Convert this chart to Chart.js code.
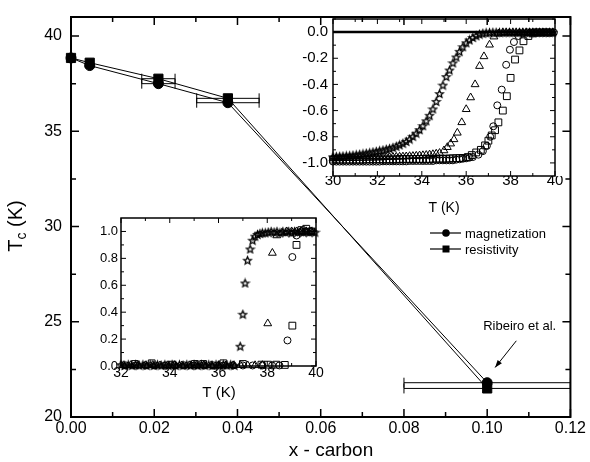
<!DOCTYPE html>
<html>
<head>
<meta charset="utf-8">
<script src="https://cdn.jsdelivr.net/npm/chart.js@4.4.1/dist/chart.umd.min.js"></script>
<style>
body { margin: 0; background: #fff; }
#wrap { position: relative; width: 590px; height: 462px; }
canvas { position: absolute; left: 0; top: 0; }
</style>
</head>
<body>
<div id="wrap">
  <canvas id="main" width="590" height="462"></canvas>
  <canvas id="ins1" width="590" height="462"></canvas>
  <canvas id="ins2" width="590" height="462"></canvas>
</div>
<script>
// main plot: Tc vs carbon content
var carbon    = [0, 0.0045, 0.021, 0.0377, 0.10];
var carbonErr = [0, 0, 0.004, 0.0075, 0.02];
var tcMag     = [38.85, 38.45, 37.5, 36.5, 21.8];
var tcRes     = [38.85, 38.6, 37.76, 36.73, 21.5];
var mainXTicks = [0, 0.02, 0.04, 0.06, 0.08, 0.10, 0.12];
var mainYTicks = [20, 25, 30, 35, 40];
var ribeiroText  = [0.1078, 24.77];
var ribeiroArrow = [0.107, 24.0, 0.1019, 22.6];

// inset 1: M/|M(5K)| vs T
var magStarT = [30.0,30.15,30.3,30.45,30.6,30.75,30.9,31.05,31.2,31.35,31.5,31.65,31.8,31.95,32.1,32.25,32.4,32.55,32.7,32.85,33.0,33.15,33.3,33.45,33.6,33.75,33.9,34.05,34.2,34.35,34.5,34.65,34.8,34.95,35.1,35.25,35.4,35.55,35.7,35.85,36.0,36.15,36.3,36.45,36.6,36.75,36.9,37.05,37.2,37.35,37.5,37.65,37.8,37.95,38.1,38.25,38.4,38.55,38.7,38.85,39.0,39.15,39.3,39.45,39.6,39.75,39.9];
var magStarM = [-0.953,-0.951,-0.95,-0.948,-0.946,-0.944,-0.941,-0.938,-0.934,-0.93,-0.926,-0.922,-0.917,-0.912,-0.907,-0.902,-0.896,-0.89,-0.882,-0.873,-0.862,-0.85,-0.836,-0.818,-0.797,-0.773,-0.746,-0.715,-0.678,-0.636,-0.587,-0.53,-0.47,-0.405,-0.34,-0.29,-0.235,-0.19,-0.147,-0.112,-0.082,-0.06,-0.041,-0.028,-0.016,-0.009,-0.005,-0.003,-0.002,-0.002,-0.002,-0.002,-0.002,-0.002,-0.002,-0.002,-0.002,-0.002,-0.002,-0.002,-0.002,-0.002,-0.002,-0.002,-0.002,-0.002,-0.002];
var magTriT = [30.0,30.15,30.3,30.45,30.6,30.75,30.9,31.05,31.2,31.35,31.5,31.65,31.8,31.95,32.1,32.25,32.4,32.55,32.7,32.85,33.0,33.15,33.3,33.45,33.6,33.75,33.9,34.05,34.2,34.35,34.5,34.65,34.8,35.0,35.15,35.3,35.45,35.6,35.8,36.0,36.2,36.4,36.6,36.8,37.05,37.25,37.45,37.65,37.8,37.95,38.1,38.25,38.4,38.55,38.7,38.85,39.0,39.15,39.3,39.45,39.6,39.75,39.9];
var magTriM = [-0.966,-0.966,-0.965,-0.965,-0.964,-0.964,-0.963,-0.963,-0.962,-0.962,-0.961,-0.961,-0.96,-0.96,-0.959,-0.958,-0.957,-0.956,-0.955,-0.954,-0.953,-0.952,-0.951,-0.949,-0.948,-0.946,-0.944,-0.942,-0.94,-0.937,-0.934,-0.93,-0.925,-0.905,-0.88,-0.853,-0.82,-0.77,-0.69,-0.59,-0.5,-0.4,-0.26,-0.186,-0.097,-0.035,-0.012,-0.004,-0.004,-0.004,-0.004,-0.004,-0.004,-0.004,-0.004,-0.004,-0.004,-0.004,-0.004,-0.004,-0.004,-0.004,-0.004];
var magCircT = [30.0,30.15,30.3,30.45,30.6,30.75,30.9,31.05,31.2,31.35,31.5,31.65,31.8,31.95,32.1,32.25,32.4,32.55,32.7,32.85,33.0,33.15,33.3,33.45,33.6,33.75,33.9,34.05,34.2,34.35,34.5,34.65,34.8,34.95,35.1,35.25,35.4,35.55,35.7,35.85,36.0,36.15,36.3,36.55,36.75,36.93,37.08,37.22,37.4,37.6,37.8,37.97,38.15,38.35,38.55,38.75,38.9,39.05,39.2,39.35,39.5,39.65,39.8,39.95];
var magCircM = [-0.99,-0.99,-0.99,-0.99,-0.99,-0.99,-0.99,-0.99,-0.99,-0.99,-0.99,-0.99,-0.99,-0.99,-0.99,-0.988,-0.988,-0.988,-0.988,-0.988,-0.988,-0.988,-0.988,-0.985,-0.985,-0.985,-0.985,-0.985,-0.985,-0.985,-0.985,-0.98,-0.98,-0.98,-0.98,-0.98,-0.98,-0.975,-0.972,-0.968,-0.965,-0.96,-0.955,-0.937,-0.91,-0.87,-0.8,-0.72,-0.56,-0.44,-0.25,-0.135,-0.076,-0.03,-0.01,-0.003,-0.003,-0.003,-0.003,-0.003,-0.003,-0.003,-0.003,-0.003];
var magSqT = [30.0,30.15,30.3,30.45,30.6,30.75,30.9,31.05,31.2,31.35,31.5,31.65,31.8,31.95,32.1,32.25,32.4,32.55,32.7,32.85,33.0,33.15,33.3,33.45,33.6,33.75,33.9,34.05,34.2,34.35,34.5,34.65,34.8,34.95,35.1,35.25,35.4,35.55,35.7,35.85,36.07,36.25,36.45,36.66,36.85,37.0,37.15,37.3,37.45,37.65,37.83,38.0,38.2,38.4,38.58,38.8,39.0,39.2,39.4,39.6,39.8];
var magSqM = [-0.975,-0.975,-0.975,-0.975,-0.975,-0.975,-0.975,-0.975,-0.975,-0.975,-0.973,-0.973,-0.973,-0.973,-0.973,-0.973,-0.973,-0.973,-0.973,-0.973,-0.97,-0.97,-0.97,-0.97,-0.97,-0.97,-0.97,-0.97,-0.97,-0.97,-0.968,-0.968,-0.968,-0.968,-0.968,-0.966,-0.965,-0.964,-0.963,-0.962,-0.955,-0.94,-0.92,-0.9,-0.866,-0.83,-0.79,-0.75,-0.69,-0.6,-0.49,-0.35,-0.21,-0.14,-0.07,-0.03,-0.01,-0.003,-0.003,-0.003,-0.003];
var magZeroT = [30, 40];
var magZeroM = [0, 0];
var magXTicks = [30, 32, 34, 36, 38, 40];
var magYTicks = [-1.0, -0.8, -0.6, -0.4, -0.2, 0.0];

// inset 2: rho/rho(40K) vs T
var resStarT = [32.0,32.15,32.3,32.45,32.6,32.75,32.9,33.05,33.2,33.35,33.5,33.65,33.8,33.95,34.1,34.25,34.4,34.55,34.7,34.85,35.0,35.15,35.3,35.45,35.6,35.75,35.9,36.05,36.2,36.35,36.5,36.65,36.89,37.0,37.09,37.19,37.3,37.4,37.5,37.6,37.7,37.8,37.92,38.04,38.16,38.28,38.4,38.52,38.64,38.76,38.88,39.0,39.12,39.24,39.36,39.48,39.6,39.72,39.84,39.96];
var resStarR = [0.01,0.005,0.01,0.004,0.01,0.006,0.01,0.005,0.01,0.004,0.01,0.006,0.01,0.005,0.01,0.004,0.01,0.006,0.01,0.005,0.01,0.004,0.01,0.006,0.01,0.005,0.01,0.004,0.01,0.006,0.01,0.005,0.147,0.385,0.617,0.786,0.87,0.935,0.965,0.978,0.985,0.99,0.99,0.995,1.0,0.995,1.0,0.99,1.0,0.995,1.0,0.99,1.0,0.995,1.0,0.995,1.0,0.995,1.0,0.995];
var resTriT = [32.1,32.4,32.7,33.0,33.3,33.6,33.9,34.2,34.5,34.8,35.1,35.4,35.7,36.0,36.3,36.6,36.9,37.2,37.5,37.8,38.02,38.21,38.39,38.6,38.8,39.0,39.2,39.4,39.6,39.8];
var resTriR = [0.005,0.006,0.004,0.005,0.006,0.004,0.005,0.006,0.004,0.005,0.006,0.004,0.005,0.006,0.004,0.005,0.006,0.004,0.005,0.006,0.316,0.84,0.97,0.99,1.0,1.0,1.0,1.0,1.0,1.0];
var resCircT = [32.2,32.6,33.0,33.4,33.8,34.2,34.6,35.0,35.4,35.8,36.2,36.6,37.0,37.4,37.8,38.2,38.5,38.83,39.03,39.2,39.4,39.6,39.8];
var resCircR = [0.004,0.004,0.004,0.004,0.004,0.004,0.004,0.004,0.004,0.004,0.004,0.004,0.004,0.004,0.004,0.004,0.004,0.19,0.81,0.97,1.0,1.0,1.0];
var resSqT = [32.57,33.26,34.1,35.03,35.37,36.2,37.0,37.76,38.03,38.37,38.72,39.03,39.2,39.4,39.6,39.8];
var resSqR = [0.015,0.02,0.01,0.015,0.015,0.02,0.015,0.01,0.01,0.01,0.008,0.30,0.90,1.01,1.02,1.0];
var resXTicks = [32, 34, 36, 38, 40];
var resYTicks = [0, 0.2, 0.4, 0.6, 0.8, 1.0];

var FONT = 'Liberation Sans, Arial, sans-serif';
Chart.defaults.font.family = FONT;
Chart.defaults.color = '#000';

function pts(xs, ys) {
    return xs.map(function(x, i) { return { x: x, y: ys[i] }; });
}

function starImage(r) {
    var c = document.createElement('canvas');
    var s = Math.ceil(r * 2 + 3);
    c.width = s; c.height = s;
    var g = c.getContext('2d');
    g.translate(s / 2, s / 2 + 0.5);
    g.beginPath();
    for (var i = 0; i < 10; i++) {
        var rr = i % 2 ? r * 0.45 : r;
        var a = -Math.PI / 2 + i * Math.PI / 5;
        g.lineTo(rr * Math.cos(a), rr * Math.sin(a));
    }
    g.closePath();
    g.lineWidth = 1.3;
    g.strokeStyle = '#000';
    g.stroke();
    return c;
}
var star = starImage(4);

function axis(min, max, ticks, fmt, size, pad, isX, font) {
    return {
        type: 'linear', min: min, max: max,
        grid: { display: false, drawTicks: false },
        border: { display: false },
        afterBuildTicks: function(s) { s.ticks = ticks.map(function(v) { return { value: v }; }); },
        afterFit: function(s) { if (isX) s.height = size; else s.width = size; },
        ticks: { padding: pad, maxRotation: 0, autoSkip: false, font: font, callback: fmt }
    };
}

// box round the plot area with inward ticks on all four sides
var frameTicks = {
    id: 'frameTicks',
    afterDatasetsDraw: function(chart, args, o) {
        var ctx = chart.ctx, a = chart.chartArea;
        var xs = chart.scales.x, ys = chart.scales.y;
        function minors(scale) {
            var v = scale.ticks.map(function(t) { return t.value; }), out = [];
            var st = v[1] - v[0];
            for (var i = -1; i < v.length; i++) {
                var m = (i < 0 ? v[0] - st / 2 : v[i] + st / 2);
                if (m > scale.min && m < scale.max) out.push(m);
            }
            return out;
        }
        ctx.save();
        ctx.strokeStyle = '#000';
        ctx.lineWidth = o.tickWidth;
        ctx.beginPath();
        [[xs.ticks.map(function(t) { return t.value; }), o.major], [minors(xs), o.minor]].forEach(function(set) {
            set[0].forEach(function(v) {
                var px = xs.getPixelForValue(v);
                ctx.moveTo(px, a.bottom); ctx.lineTo(px, a.bottom - set[1]);
                ctx.moveTo(px, a.top); ctx.lineTo(px, a.top + set[1]);
            });
        });
        [[ys.ticks.map(function(t) { return t.value; }), o.major], [minors(ys), o.minor]].forEach(function(set) {
            set[0].forEach(function(v) {
                var py = ys.getPixelForValue(v);
                ctx.moveTo(a.left, py); ctx.lineTo(a.left + set[1], py);
                ctx.moveTo(a.right, py); ctx.lineTo(a.right - set[1], py);
            });
        });
        ctx.stroke();
        ctx.lineWidth = o.lineWidth;
        ctx.strokeRect(a.left, a.top, a.right - a.left, a.bottom - a.top);
        ctx.restore();
    }
};

// horizontal error bars read from dataset.xErr
var errorBars = {
    id: 'errorBars',
    beforeDatasetsDraw: function(chart) {
        var ctx = chart.ctx, a = chart.chartArea;
        var xs = chart.scales.x, ys = chart.scales.y;
        ctx.save();
        ctx.beginPath();
        ctx.rect(a.left, a.top - 10, a.right - a.left, a.bottom - a.top + 20);
        ctx.clip();
        ctx.strokeStyle = '#000';
        ctx.lineWidth = 1;
        ctx.beginPath();
        chart.data.datasets.forEach(function(ds) {
            if (!ds.xErr) return;
            ds.data.forEach(function(p, i) {
                var e = ds.xErr[i];
                if (!e) return;
                var x0 = xs.getPixelForValue(p.x - e), x1 = xs.getPixelForValue(p.x + e);
                var y = ys.getPixelForValue(p.y);
                ctx.moveTo(x0, y); ctx.lineTo(x1, y);
                ctx.moveTo(x0, y - 5); ctx.lineTo(x0, y + 5);
                ctx.moveTo(x1, y - 5); ctx.lineTo(x1, y + 5);
            });
        });
        ctx.stroke();
        ctx.restore();
    }
};

function rotText(ctx, txt, x, y, font) {
    ctx.save();
    ctx.translate(x, y);
    ctx.rotate(-Math.PI / 2);
    ctx.font = font;
    ctx.textAlign = 'center';
    ctx.textBaseline = 'middle';
    ctx.fillText(txt, 0, 0);
    ctx.restore();
}

var mainNotes = {
    id: 'mainNotes',
    afterDraw: function(chart) {
        var ctx = chart.ctx, xs = chart.scales.x, ys = chart.scales.y;
        ctx.save();
        ctx.fillStyle = '#000';
        ctx.strokeStyle = '#000';
        // x title
        ctx.font = '19px ' + FONT;
        ctx.textAlign = 'center';
        ctx.textBaseline = 'middle';
        ctx.fillText('x - carbon', 331, 451);
        // y title with subscript
        ctx.save();
        var big = '20px ' + FONT, small = '14px ' + FONT;
        ctx.font = big; var wT = ctx.measureText('T').width, wK = ctx.measureText(' (K)').width;
        ctx.font = small; var wc = ctx.measureText('c').width;
        ctx.translate(22, 226);
        ctx.rotate(-Math.PI / 2);
        ctx.textAlign = 'left';
        ctx.textBaseline = 'alphabetic';
        var x0 = -(wT + wc + wK) / 2;
        ctx.font = big; ctx.fillText('T', x0, 0);
        ctx.font = small; ctx.fillText('c', x0 + wT, 4);
        ctx.font = big; ctx.fillText(' (K)', x0 + wT + wc, 0);
        ctx.restore();
        // legend
        ctx.lineWidth = 1.2;
        ctx.font = '13px ' + FONT;
        ctx.textAlign = 'left';
        [[233, 'magnetization', 'circle'], [249, 'resistivity', 'rect']].forEach(function(r) {
            ctx.beginPath(); ctx.moveTo(430, r[0]); ctx.lineTo(461, r[0]); ctx.stroke();
            ctx.beginPath();
            if (r[2] === 'circle') ctx.arc(446, r[0], 3.8, 0, Math.PI * 2);
            else ctx.rect(442.5, r[0] - 3.5, 7, 7);
            ctx.fill();
            ctx.fillText(r[1], 465, r[0] + 1);
        });
        // Ribeiro et al. note and arrow
        ctx.textAlign = 'center';
        ctx.fillText('Ribeiro et al.', xs.getPixelForValue(ribeiroText[0]), ys.getPixelForValue(ribeiroText[1]));
        var ax = xs.getPixelForValue(ribeiroArrow[0]), ay = ys.getPixelForValue(ribeiroArrow[1]);
        var bx = xs.getPixelForValue(ribeiroArrow[2]), by = ys.getPixelForValue(ribeiroArrow[3]);
        ctx.lineWidth = 1;
        ctx.beginPath(); ctx.moveTo(ax, ay); ctx.lineTo(bx, by); ctx.stroke();
        var ang = Math.atan2(by - ay, bx - ax);
        ctx.beginPath();
        ctx.moveTo(bx, by);
        ctx.lineTo(bx - 8 * Math.cos(ang - 0.35), by - 8 * Math.sin(ang - 0.35));
        ctx.lineTo(bx - 8 * Math.cos(ang + 0.35), by - 8 * Math.sin(ang + 0.35));
        ctx.closePath();
        ctx.fill();
        ctx.restore();
    }
};

var ins1Notes = {
    id: 'ins1Notes',
    afterDraw: function(chart) {
        var ctx = chart.ctx;
        ctx.save();
        ctx.fillStyle = '#000';
        ctx.font = '14px ' + FONT;
        ctx.textAlign = 'center';
        ctx.textBaseline = 'middle';
        ctx.fillText('T (K)', 444, 208);
        ctx.restore();
        rotText(ctx, 'M/|M(5K)|', 285, 90, '13px ' + FONT);
    }
};

var ins2Notes = {
    id: 'ins2Notes',
    afterDraw: function(chart) {
        var ctx = chart.ctx;
        ctx.save();
        ctx.fillStyle = '#000';
        ctx.font = '15px ' + FONT;
        ctx.textAlign = 'center';
        ctx.textBaseline = 'middle';
        ctx.fillText('T (K)', 219, 393);
        ctx.restore();
        rotText(ctx, 'ρ/ρ(40K)', 90, 288, '12px ' + FONT);
    }
};

function markers(data, style, r) {
    return {
        data: data, showLine: false, pointStyle: style, pointRadius: r,
        pointBorderColor: '#000', pointBackgroundColor: 'rgba(0,0,0,0)', pointBorderWidth: 1, clip: false
    };
}

var common = {
    responsive: false, animation: false, events: [],
    plugins: { legend: { display: false }, tooltip: { enabled: false } }
};

new Chart(document.getElementById('main'), {
    type: 'scatter',
    data: {
        datasets: [
            { label: 'magnetization', data: pts(carbon, tcMag), xErr: carbonErr, showLine: true,
              borderColor: '#000', borderWidth: 1, pointStyle: 'circle', pointRadius: 5,
              pointBackgroundColor: '#000', pointBorderColor: '#000', clip: false },
            { label: 'resistivity', data: pts(carbon, tcRes), xErr: carbonErr, showLine: true,
              borderColor: '#000', borderWidth: 1, pointStyle: 'rect', pointRadius: 6.5,
              pointBackgroundColor: '#000', pointBorderColor: '#000', clip: false }
        ]
    },
    options: Object.assign({}, common, {
        layout: { padding: { left: 0, top: 4, right: 16, bottom: 0 } },
        plugins: Object.assign({}, common.plugins, { frameTicks: { lineWidth: 2, tickWidth: 1.5, major: 8, minor: 5 } }),
        scales: {
            x: axis(0, 0.12, mainXTicks, function(v) { return v.toFixed(2); }, 45, 4, true, { size: 16, lineHeight: 1 }),
            y: axis(20, 41, mainYTicks, function(v) { return String(v); }, 71, 9, false, { size: 16, lineHeight: 1 })
        }
    }),
    plugins: [errorBars, frameTicks, mainNotes]
});

new Chart(document.getElementById('ins1'), {
    type: 'scatter',
    data: {
        datasets: [
            markers(pts(magStarT, magStarM), star, 4),
            markers(pts(magTriT, magTriM), 'triangle', 4.5),
            markers(pts(magCircT, magCircM), 'circle', 3.5),
            markers(pts(magSqT, magSqM), 'rect', 4.8),
            { data: pts(magZeroT, magZeroM), showLine: true, borderColor: '#000', borderWidth: 2.5, pointRadius: 0 }
        ]
    },
    options: Object.assign({}, common, {
        layout: { padding: { left: 293, top: 19, right: 35, bottom: 256 } },
        plugins: Object.assign({}, common.plugins, { frameTicks: { lineWidth: 1.5, tickWidth: 1, major: 5, minor: 3 } }),
        scales: {
            x: axis(30, 40, magXTicks, function(v) { return String(v); }, 30, -3, true, { size: 15, lineHeight: 1 }),
            y: axis(-1.1, 0.1, magYTicks, function(v) { return v.toFixed(1); }, 40, 5, false, { size: 15, lineHeight: 1 })
        }
    }),
    plugins: [frameTicks, ins1Notes]
});

new Chart(document.getElementById('ins2'), {
    type: 'scatter',
    data: {
        datasets: [
            markers(pts(resStarT, resStarR), star, 4),
            markers(pts(resTriT, resTriR), 'triangle', 4.5),
            markers(pts(resCircT, resCircR), 'circle', 3.5),
            markers(pts(resSqT, resSqR), 'rect', 4.8)
        ]
    },
    options: Object.assign({}, common, {
        layout: { padding: { left: 91, top: 218, right: 274, bottom: 76 } },
        plugins: Object.assign({}, common.plugins, { frameTicks: { lineWidth: 1.5, tickWidth: 1, major: 5, minor: 3 } }),
        scales: {
            x: axis(32, 40, resXTicks, function(v) { return String(v); }, 20, 0, true, { size: 14, lineHeight: 1 }),
            y: axis(0, 1.1, resYTicks, function(v) { return v.toFixed(1); }, 30, 3, false, { size: 13, lineHeight: 1 })
        }
    }),
    plugins: [frameTicks, ins2Notes]
});
</script>
</body>
</html>
